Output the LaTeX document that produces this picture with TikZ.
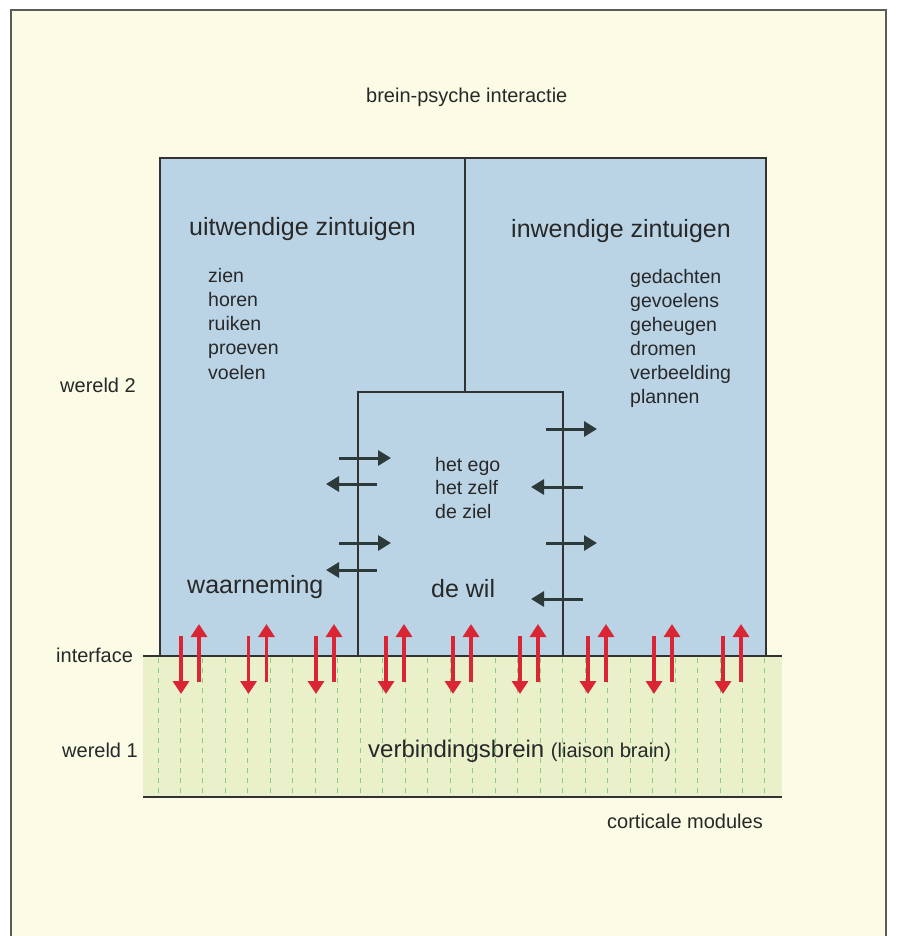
\documentclass[tikz,border=0pt]{standalone}
\usepackage{fontspec}
\setmainfont{Liberation Sans}
\usetikzlibrary{arrows.meta}
\definecolor{cream}{RGB}{251,251,230}
\definecolor{skyblue}{RGB}{186,212,230}
\definecolor{paleg}{RGB}{233,240,202}
\definecolor{dashg}{RGB}{140,205,130}
\definecolor{redarr}{RGB}{218,38,52}
\definecolor{darkarr}{RGB}{45,58,58}
\definecolor{ink}{RGB}{40,40,40}
\definecolor{edge}{RGB}{50,50,50}
\tikzset{
  lbl/.style={inner sep=0pt, anchor=base west, text=ink},
  big/.style={lbl, font=\fontsize{25}{30}\selectfont},
  mid/.style={lbl, font=\fontsize{19.5}{24}\selectfont},
  redup/.style={draw=redarr, line width=3.3pt, -{Triangle[width=16pt,length=13pt]}},
  darr/.style={draw=darkarr, line width=3pt, -{Triangle[width=15pt,length=13pt]}},
  frame/.style={draw=edge, line width=1.3pt},
  gdash/.style={draw=dashg, line width=1pt, dash pattern=on 5pt off 5pt}
}
\begin{document}
\begin{tikzpicture}[x=1pt,y=-1pt]
\useasboundingbox (0,0) rectangle (898,936);
\fill[white] (0,0) rectangle (898,936);
\fill[cream] (11,10) rectangle (886,936);
\draw[draw=edge!80, line width=1.2pt] (11,936) -- (11,10) -- (886,10) -- (886,936);
% blue region
\fill[skyblue] (160,158) rectangle (766,656);
% green region
\fill[paleg] (143,656) rectangle (782,797);
\foreach \k in {0,...,27} {
  \draw[gdash] ({158+22.48*\k},658) -- ({158+22.48*\k},797);
}
% outlines
\coordinate (bl) at (160,656);
\coordinate (tl) at (160,158);
\coordinate (tr) at (766,158);
\coordinate (br) at (766,656);
\coordinate (dt) at (465,158);
\coordinate (db) at (465,392);
\coordinate (il) at (358,392);
\coordinate (ir) at (563,392);
\coordinate (ilb) at (358,656);
\coordinate (irb) at (563,656);
\draw[frame] (bl) -- (tl) -- (tr) -- (br);
\draw[frame] (dt) -- (db);
\draw[frame] (ilb) -- (il) -- (ir) -- (irb);
\draw[frame, line width=1.5pt] (143,656) -- (782,656);
\draw[frame, line width=1.5pt] (143,797) -- (782,797);
% red arrows
\foreach \x in {181,248.5,316,386,453,520,588,654,723} {
  \draw[redup] (\x,636) -- (\x,694);
  \draw[redup] ({\x+18},682) -- ({\x+18},624);
}
% dark arrows left
\draw[darr] (339,458) -- (391,458);
\draw[darr] (377,484) -- (326,484);
\draw[darr] (339,543) -- (391,543);
\draw[darr] (377,570) -- (326,570);
% dark arrows right
\draw[darr] (546,429) -- (597,429);
\draw[darr] (583,487) -- (531,487);
\draw[darr] (546,543) -- (597,543);
\draw[darr] (583,599) -- (531,599);
% texts
\node[lbl, font=\fontsize{20}{24}\selectfont] (title) at (366,103) {brein-psyche interactie};
\node[big] (uit) at (189,235) {uitwendige zintuigen};
\node[big] (inw) at (511,237) {inwendige zintuigen};
\foreach \t [count=\i from 0] in {zien,horen,ruiken,proeven,voelen} {
  \node[mid] (u\i) at (208,{282+24.3*\i}) {\t};
}
\foreach \t [count=\i from 0] in {gedachten,gevoelens,geheugen,dromen,verbeelding,plannen} {
  \node[mid] (w\i) at (630,{283+24*\i}) {\t};
}
\foreach \t [count=\i from 0] in {het ego,het zelf,de ziel} {
  \node[mid] (e\i) at (435,{471+23.5*\i}) {\t};
}
\node[big] (waar) at (187,593) {waarneming};
\node[big] (wil) at (431,597) {de wil};
\node[lbl, font=\fontsize{20}{24}\selectfont] (w2) at (60,392) {wereld 2};
\node[lbl, font=\fontsize{20}{24}\selectfont] (intf) at (56,662) {interface};
\node[lbl, font=\fontsize{20}{24}\selectfont] (w1) at (62,757) {wereld 1};
\node[lbl, font=\fontsize{24}{28}\selectfont] (vb) at (368,757) {verbindingsbrein \fontsize{20}{24}\selectfont(liaison brain)};
\node[lbl, font=\fontsize{20}{24}\selectfont] (cm) at (607,828) {corticale modules};
\end{tikzpicture}
\end{document}
